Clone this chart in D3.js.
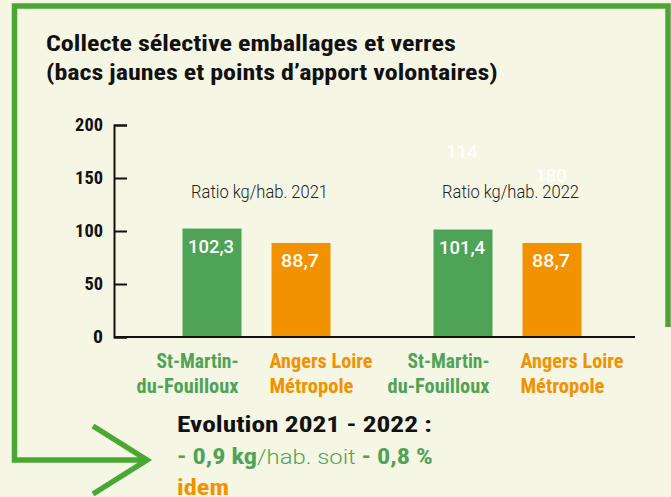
<!DOCTYPE html>
<html>
<head>
<meta charset="utf-8">
<script src="https://cdn.jsdelivr.net/npm/d3@7"></script>
<style>
  html, body { margin: 0; padding: 0; background: #F5F6E3; }
  svg { display: block; }
</style>
</head>
<body>
<div id="chart"></div>
<script>
// ---- data ----
const years = ["2021", "2022"];
const areas = ["St-Martin-du-Fouilloux", "Angers Loire Métropole"];
const areaLines = [["St-Martin-", "du-Fouilloux"], ["Angers Loire", "Métropole"]];
const values2021 = [102.3, 88.7];
const values2022 = [101.4, 88.7];
const yTicks = [0, 50, 100, 150, 200];
const ghostValues = [114, 180]; // faint white numbers above the 2022 bars
const titleLines = ["Collecte sélective emballages et verres", "(bacs jaunes et points d’apport volontaires)"];

const W = 671, H = 497;
const GREEN = "#4FA357", ORANGE = "#F39200", BORDER = "#4AA832", BG = "#F5F6E3";
const COND = "'Liberation Sans Narrow', 'Roboto Condensed', 'DejaVu Sans Condensed', Roboto, sans-serif";

const svg = d3.select("#chart").append("svg").attr("width", W).attr("height", H);
svg.append("rect").attr("width", W).attr("height", H).attr("fill", BG);

function fit(t, x, y, w) {
  const len = t.node().getComputedTextLength();
  t.attr("transform", `translate(${x},${y}) scale(${w / len},1)`);
  return t;
}

// ---- frame + arrow ----
svg.append("path")
  .attr("d", "M668,327 V6 H14.5 V460 H146")
  .attr("fill", "none").attr("stroke", BORDER).attr("stroke-width", 5.5)
  .attr("stroke-linejoin", "miter");
svg.append("path")
  .attr("d", "M93,426 L147,460 L93,494")
  .attr("fill", "none").attr("stroke", BORDER).attr("stroke-width", 5.5)
  .attr("stroke-linejoin", "miter");

// ---- title ----
const titleW = [410, 452];
titleLines.forEach((s, i) => {
  const t = svg.append("text").text(s)
    .attr("font-family", COND).attr("font-weight", "bold").attr("font-size", 22)
    .attr("fill", "#111");
  fit(t, 46, i === 0 ? 51 : 80, titleW[i]);
});

// ---- scales ----
const y = d3.scaleLinear().domain([0, 200]).range([337, 125]);
const x0 = d3.scaleBand().domain(years).range([131, 633]).padding(0);
const x1 = d3.scaleBand().domain(areas).range([51.5, 199.5]).paddingInner(0.337).paddingOuter(0);
const color = d3.scaleOrdinal().domain(areas).range([GREEN, ORANGE]);
const fmt = v => d3.format(".1f")(v).replace(".", ",");

const rows = [];
years.forEach((yr, gi) => {
  const vals = gi === 0 ? values2021 : values2022;
  areas.forEach((a, ai) => rows.push({ year: yr, area: a, ai, value: vals[ai] }));
});

// ghost labels (white, behind)
ghostValues.forEach((v, i) => {
  const cx = x0("2022") + x1(areas[i]) + x1.bandwidth() / 2 - 1;
  const t = svg.append("text").text(v)
    .attr("font-family", "Roboto, sans-serif").attr("font-size", 19)
    .attr("fill", "#FFFFFF").attr("text-anchor", "middle");
  fit(t, cx, i === 0 ? 158 : 182, 31);
});

// ratio labels
years.forEach(yr => {
  const t = svg.append("text").text("Ratio kg/hab. " + yr)
    .attr("font-family", "Roboto, sans-serif").attr("font-weight", 300).attr("font-size", 17.5)
    .attr("fill", "#222").attr("text-anchor", "middle");
  fit(t, x0(yr) + x0.bandwidth() / 2 + 3, 198, 137);
});

// bars
svg.append("g").selectAll("rect").data(rows).join("rect")
  .attr("x", d => x0(d.year) + x1(d.area))
  .attr("y", d => y(d.value))
  .attr("width", x1.bandwidth())
  .attr("height", d => y(0) - y(d.value))
  .attr("fill", d => color(d.area));

// value labels
rows.forEach(d => {
  const t = svg.append("text").text(fmt(d.value))
    .attr("font-family", "Roboto, sans-serif").attr("font-weight", 500).attr("font-size", 19)
    .attr("fill", "#FFFFFF").attr("text-anchor", "middle");
  fit(t, x0(d.year) + x1(d.area) + x1.bandwidth() / 2 - 1, y(d.value) + 24, d.ai === 0 ? 46 : 38);
});

// y axis
const yAxis = svg.append("g").attr("transform", "translate(114,0)")
  .call(d3.axisLeft(y).tickValues(yTicks).tickSize(-13).tickPadding(11).tickFormat(d3.format("d")));
yAxis.select(".domain").attr("stroke", "#111").attr("stroke-width", 2);
yAxis.selectAll(".tick line").attr("stroke", "#111").attr("stroke-width", 2);
yAxis.selectAll(".tick text")
  .attr("font-family", COND).attr("font-weight", "bold").attr("font-size", 18).attr("fill", "#111")
  .each(function () {
    const t = d3.select(this);
    const len = this.getComputedTextLength();
    const w = t.text().length === 1 ? 10 : t.text().length * 9.3;
    t.attr("transform", `translate(-11,0) scale(${w / len},1)`).attr("x", 0);
  });

// x axis line
svg.append("line").attr("x1", 114).attr("x2", 635).attr("y1", y(0)).attr("y2", y(0))
  .attr("stroke", "#111").attr("stroke-width", 2);

// category labels
const catW = [[82, 102], [103, 84]];
years.forEach(yr => {
  areas.forEach((a, ai) => {
    areaLines[ai].forEach((line, li) => {
      const t = svg.append("text").text(line)
        .attr("font-family", COND).attr("font-weight", "bold").attr("font-size", 20)
        .attr("fill", color(a)).attr("text-anchor", ai === 0 ? "end" : "start");
      const xx = ai === 0 ? x0(yr) + x1(a) + x1.bandwidth() - 3 : x0(yr) + x1(a) - 2;
      fit(t, xx, li === 0 ? 368 : 393, catW[ai][li]);
    });
  });
});

// evolution text
const ev = svg.append("text").text("Evolution 2021 - 2022 :")
  .attr("font-family", COND).attr("font-weight", "bold").attr("font-size", 22).attr("fill", "#111");
fit(ev, 177, 432, 255);

const l2 = svg.append("text").attr("font-family", COND).attr("font-size", 22).attr("fill", GREEN);
l2.append("tspan").attr("font-weight", "bold").text("- 0,9 kg");
l2.append("tspan").attr("font-family", "Roboto, sans-serif").attr("font-weight", 300).attr("font-size", 20).text("/hab. soit ");
l2.append("tspan").attr("font-weight", "bold").text("- 0,8 %");
fit(l2, 177, 464, 256);

const idem = svg.append("text").text("idem")
  .attr("font-family", COND).attr("font-weight", "bold").attr("font-size", 22).attr("fill", ORANGE);
fit(idem, 177, 495, 52);
</script>
</body>
</html>
